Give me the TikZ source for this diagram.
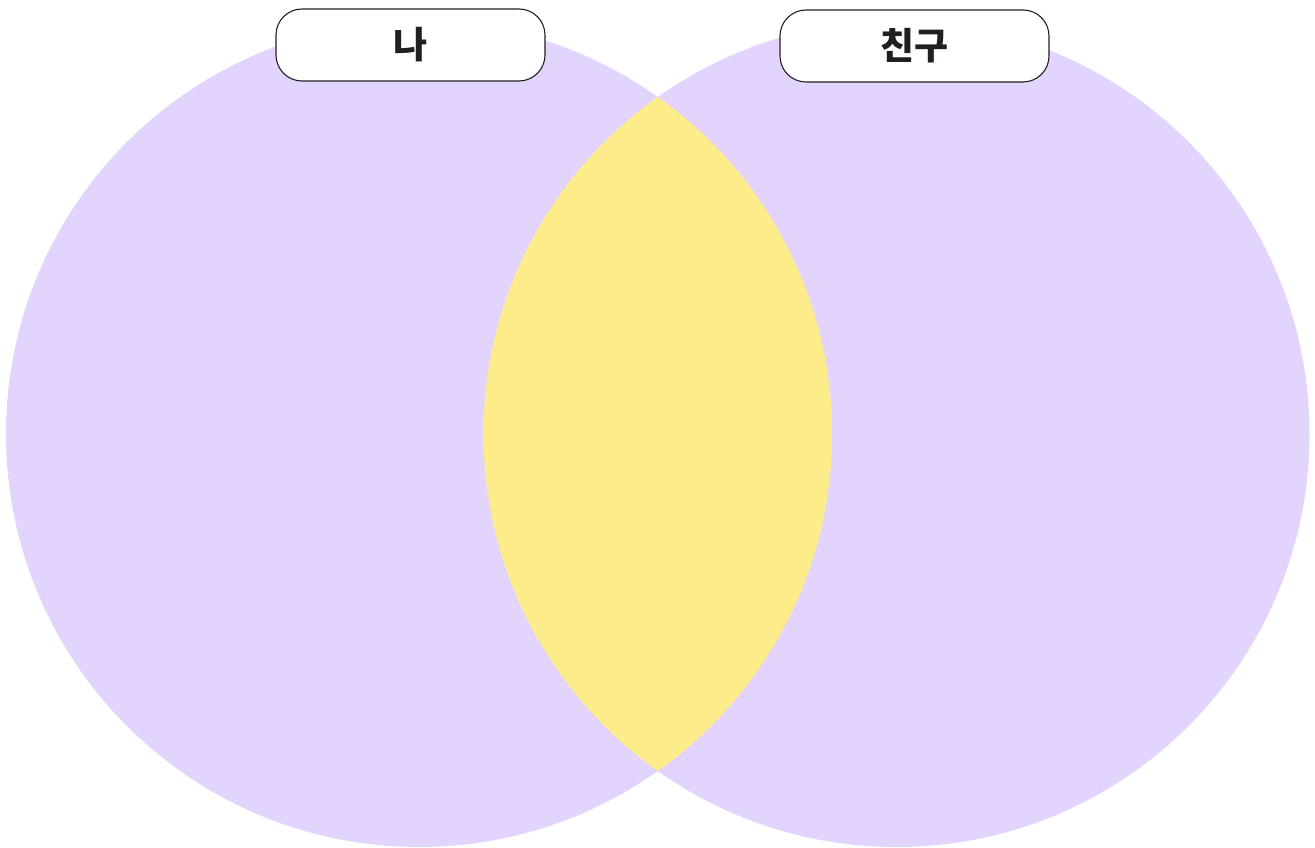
\documentclass[tikz,border=0pt]{standalone}
\usepackage{fontspec}
\newfontfamily\krfont{Noto Sans CJK KR}
\usepackage{tikz}
\definecolor{setpurple}{HTML}{E3D4FE}
\definecolor{setyellow}{HTML}{FDEC8A}
\definecolor{labeltext}{HTML}{231F20}

\begin{document}
\begin{tikzpicture}[
  x=1pt, y=-1pt,
  setcircle/.style={fill=setpurple, draw=none},
  tag/.style={draw=labeltext, fill=white, rounded corners=26pt, line width=1.1pt,
    minimum width=269pt, minimum height=72pt, inner sep=0pt,
    font=\krfont\bfseries\fontsize{37}{42}\selectfont, text=labeltext}
]
  \useasboundingbox (0,0) rectangle (1315,848);

  % two sets
  \fill[setcircle] (419,434) circle[radius=413];
  \fill[setcircle] (896.5,434) circle[radius=413];

  % overlap
  \begin{scope}
    \clip (419,434) circle[radius=413];
    \fill[setyellow] (896.5,434) circle[radius=413];
  \end{scope}

  \node[tag] (me) at (410.5,45) {나};
  \node[tag] (friend) at (914.5,46) {친구};
\end{tikzpicture}
\end{document}
